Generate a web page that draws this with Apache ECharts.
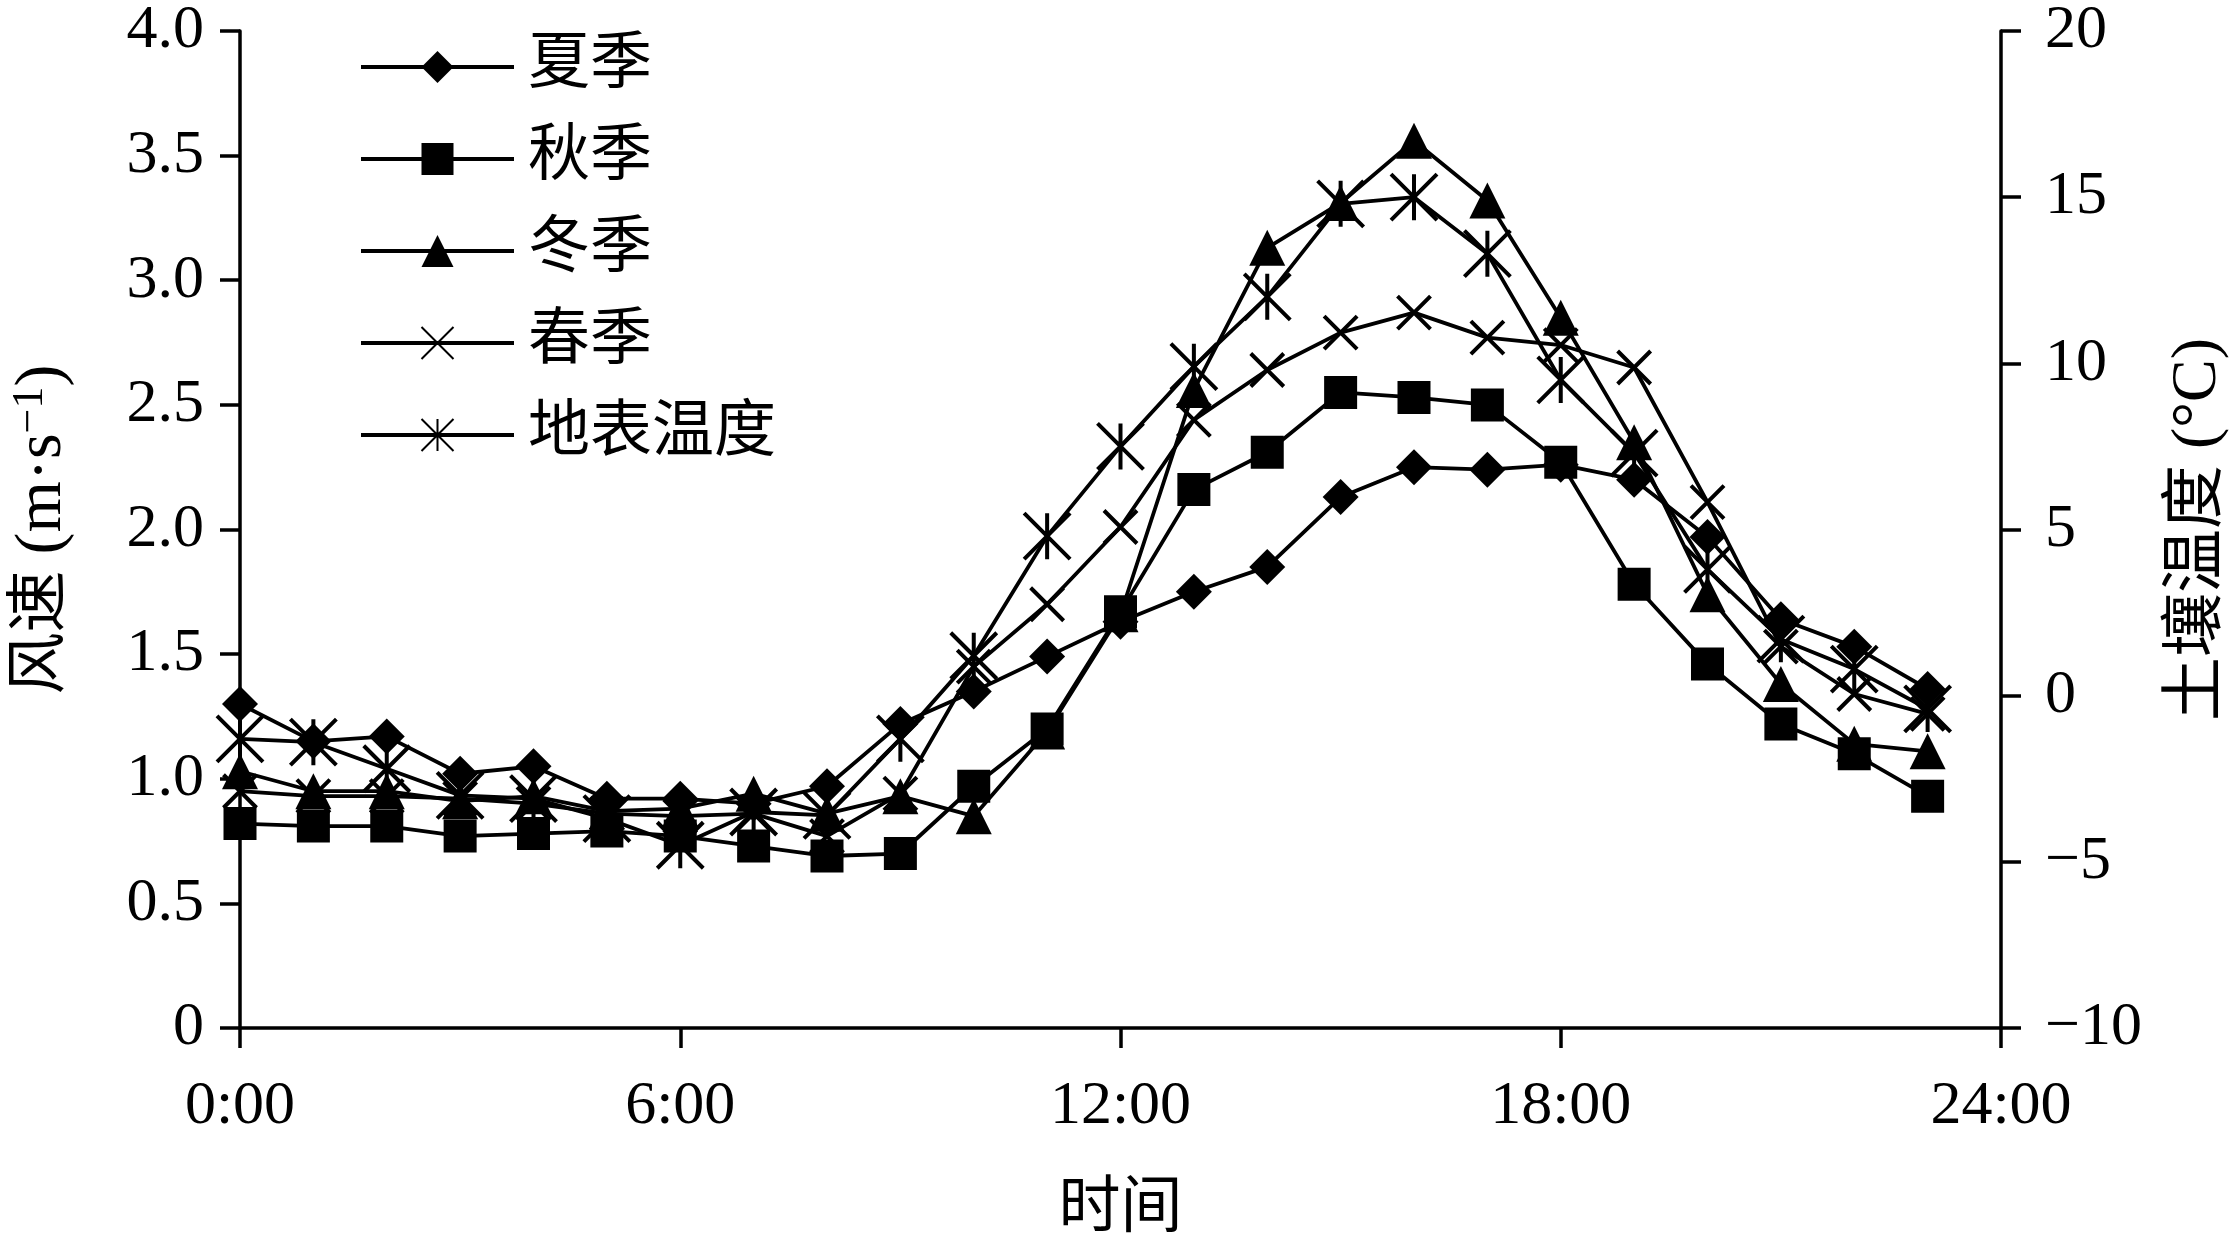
<!DOCTYPE html>
<html>
<head>
<meta charset="utf-8">
<title>风速与地表温度日变化</title>
<script src="https://cdn.jsdelivr.net/npm/echarts@6.0.0/dist/echarts.min.js"></script>
<style>
    html, body { margin: 0; padding: 0; background: #fff; }
    #chart { width: 2238px; height: 1247px; }
</style>
</head>
<body>
<div id="chart"></div>
<script>
// 时刻 (h)
var hours = [0, 1, 2, 3, 4, 5, 6, 7, 8, 9, 10, 11, 12, 13, 14, 15, 16, 17, 18, 19, 20, 21, 22, 23];

// 风速 (m/s)
var summer = [1.30, 1.15, 1.17, 1.02, 1.05, 0.92, 0.92, 0.90, 0.97, 1.22, 1.35, 1.49,
              1.63, 1.75, 1.85, 2.13, 2.25, 2.24, 2.26, 2.20, 1.97, 1.64, 1.53, 1.36];
var autumn = [0.82, 0.81, 0.81, 0.77, 0.78, 0.79, 0.77, 0.73, 0.69, 0.70, 0.97, 1.20,
              1.67, 2.16, 2.31, 2.55, 2.53, 2.50, 2.27, 1.78, 1.46, 1.22, 1.10, 0.93];
var winter = [1.03, 0.95, 0.95, 0.91, 0.93, 0.87, 0.88, 0.94, 0.86, 0.93, 0.85, 1.19,
              1.66, 2.56, 3.13, 3.31, 3.56, 3.32, 2.85, 2.35, 1.74, 1.38, 1.14, 1.11];
var spring = [0.95, 0.93, 0.93, 0.92, 0.90, 0.86, 0.85, 0.86, 0.77, 0.94, 1.45, 1.70,
              2.01, 2.44, 2.64, 2.79, 2.87, 2.77, 2.74, 2.65, 2.11, 1.53, 1.34, 1.26];

// 地表温度 (°C)
var groundTemp = [-1.3, -1.4, -2.2, -3.0, -3.1, -3.7, -4.5, -3.5, -3.6, -1.3, 1.2, 4.8,
                  7.5, 9.9, 12.0, 14.8, 15.0, 13.3, 9.5, 7.3, 3.8, 1.7, 0.8, -0.4];

var seriesNames = ['夏季', '秋季', '冬季', '春季', '地表温度'];

var chart = echarts.init(document.getElementById('chart'));

var LATIN = '"Liberation Serif", "Times New Roman", serif';
var CJK = '"Liberation Serif", "Noto Sans CJK SC", serif';

// [小时, 数值] 点对
var pairs = function (values) {
    var out = [];
    for (var i = 0; i < hours.length; i++) {
        out.push([hours[i], values[i]]);
    }
    return out;
};

var lineSeries = function (name, values, symbol, size, opts) {
    var s = {
        name: name,
        type: 'line',
        data: pairs(values),
        symbol: symbol,
        symbolSize: size,
        showAllSymbol: true,
        lineStyle: { color: '#000', width: 3.8 },
        itemStyle: { color: '#000' },
        emphasis: { disabled: true }
    };
    if (opts) {
        for (var k in opts) s[k] = opts[k];
    }
    return s;
};

var CROSS = 'path://M0,0L10,10M10,0L0,10';
var STAR = 'path://M0,0L10,10M10,0L0,10M5,0L5,10';

var axisLineStyle = { show: true, lineStyle: { color: '#000', width: 3.5 } };
var axisTickStyle = { show: true, inside: false, length: 20, lineStyle: { color: '#000', width: 3.5 } };

var option = {
    animation: false,
    backgroundColor: '#fff',
    grid: { left: 226, right: 218, top: 22, bottom: 192, containLabel: false },
    legend: {
        orient: 'vertical',
        left: 354,
        top: 30,
        itemWidth: 153,
        itemHeight: 40,
        itemGap: 28,
        data: seriesNames,
        lineStyle: { color: '#000', width: 4 },
        textStyle: {
            fontFamily: CJK,
            fontSize: 62,
            lineHeight: 64,
            color: '#000',
            padding: [0, 0, 0, 9]
        }
    },
    xAxis: {
        type: 'value',
        min: 0,
        max: 24,
        interval: 6,
        name: '时间',
        nameLocation: 'middle',
        nameGap: 152,
        nameTextStyle: { fontFamily: CJK, fontSize: 62, color: '#000' },
        axisLine: axisLineStyle,
        axisTick: axisTickStyle,
        splitLine: { show: false },
        axisLabel: {
            margin: 48,
            color: '#000',
            fontFamily: LATIN,
            fontSize: 62,
            formatter: function (v) { return v + ':00'; }
        }
    },
    yAxis: [{
        type: 'value',
        min: 0,
        max: 4,
        interval: 0.5,
        position: 'left',
        name: '{z|风速}{g|}{l|(m·s}{s|−1}{l|)}',
        nameLocation: 'middle',
        nameRotate: 90,
        nameGap: 162,
        nameTextStyle: {
            color: '#000',
            rich: {
                z: { fontFamily: CJK, fontSize: 62, color: '#000' },
                g: { width: 16 },
                l: { fontFamily: LATIN, fontSize: 66, color: '#000' },
                s: { fontFamily: LATIN, fontSize: 44, color: '#000', verticalAlign: 'top', padding: [0, 0, 26, 0] }
            }
        },
        axisLine: axisLineStyle,
        axisTick: axisTickStyle,
        splitLine: { show: false },
        axisLabel: {
            margin: 36,
            color: '#000',
            fontFamily: LATIN,
            fontSize: 62,
            formatter: function (v) { return v === 0 ? '0' : v.toFixed(1); }
        }
    }, {
        type: 'value',
        min: -10,
        max: 20,
        interval: 5,
        position: 'right',
        name: '{z|土壤温度}{g|}{l|(°C)}',
        nameLocation: 'middle',
        nameRotate: 90,
        nameGap: 165,
        nameTextStyle: {
            color: '#000',
            rich: {
                z: { fontFamily: CJK, fontSize: 64, color: '#000' },
                g: { width: 16 },
                l: { fontFamily: LATIN, fontSize: 64, color: '#000' }
            }
        },
        axisLine: axisLineStyle,
        axisTick: axisTickStyle,
        splitLine: { show: false },
        axisLabel: {
            margin: 44,
            color: '#000',
            fontFamily: LATIN,
            fontSize: 62,
            formatter: function (v) { return v < 0 ? '\u2212' + Math.abs(v) : String(v); }
        }
    }],
    series: [
        lineSeries('夏季', summer, 'diamond', 36),
        lineSeries('秋季', autumn, 'rect', 33),
        lineSeries('冬季', winter, 'triangle', 36),
        lineSeries('春季', spring, CROSS, 33, {
            itemStyle: { color: '#000', borderColor: '#000', borderWidth: 4 }
        }),
        lineSeries('地表温度', groundTemp, STAR, 46, {
            yAxisIndex: 1,
            itemStyle: { color: '#000', borderColor: '#000', borderWidth: 4 }
        })
    ]
};

chart.setOption(option);
</script>
</body>
</html>
